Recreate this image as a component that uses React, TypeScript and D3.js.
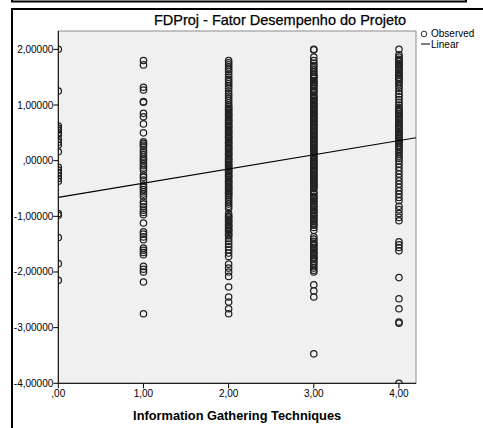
import * as d3 from "d3";

// categories on the x axis (Information Gathering Techniques)
const categories = [0, 1, 2, 3, 4];

// FDProj values observed at each category
const col0 = [2.0, 1.25, 0.62, 0.58, 0.55, 0.5, 0.46, 0.38, 0.33, 0.28, 0.16, -0.12, -0.17, -0.22, -0.27, -0.32, -0.37, -0.95, -0.98, -1.38, -1.85, -2.15];
const col1 = [1.8, 1.72, 1.32, 1.27, 1.06, 1.05, 0.85, 0.79, 0.66, 0.5, 0.34, 0.31, 0.28, 0.25, 0.19, 0.15, 0.11, 0.07, 0.03, 0.0, -0.05, -0.09, -0.13, -0.17, -0.26, -0.3, -0.35, -0.44, -0.48, -0.52, -0.56, -0.6, -0.65, -0.74, -0.78, -0.83, -0.89, -0.93, -0.97, -1.12, -1.28, -1.32, -1.37, -1.42, -1.57, -1.61, -1.65, -1.69, -1.9, -1.95, -2.0, -2.18, -2.75];
const col2 = [1.8, 1.76, 1.72, 1.68, 1.64, 1.6, 1.55, 1.5, 1.46, 1.42, 1.38, 1.34, 1.3, 1.25, 1.2, 1.16, 1.12, 1.08, 1.04, 1.0, 0.97, 0.94, 0.9, 0.87, 0.84, 0.8, 0.77, 0.74, 0.7, 0.67, 0.64, 0.6, 0.57, 0.54, 0.5, 0.47, 0.44, 0.4, 0.37, 0.34, 0.3, 0.27, 0.24, 0.2, 0.17, 0.14, 0.1, 0.07, 0.04, 0.0, -0.03, -0.06, -0.1, -0.13, -0.16, -0.2, -0.23, -0.26, -0.3, -0.33, -0.36, -0.4, -0.43, -0.46, -0.5, -0.53, -0.56, -0.6, -0.63, -0.66, -0.7, -0.74, -0.78, -0.82, -0.86, -0.95, -0.99, -1.03, -1.07, -1.11, -1.15, -1.19, -1.23, -1.27, -1.31, -1.35, -1.4, -1.45, -1.5, -1.55, -1.6, -1.66, -1.72, -1.86, -1.93, -2.0, -2.08, -2.27, -2.45, -2.54, -2.66, -2.75,
  0.92, 0.82, 0.72, 0.62, 0.52, 0.42, 0.32, 0.22, 0.12, 0.02, -0.08, -0.18, -0.28, -0.38, -0.48, -0.58, -1.01, -1.09, -1.17, -1.25, -1.33];
const col3 = [2.0, 1.99, 1.86, 1.8, 1.75, 1.71, 1.67, 1.63, 1.59, 1.55, 1.52, 1.48, 1.44, 1.4, 1.37, 1.33, 1.29, 1.26, 1.22, 1.18, 1.15, 1.11, 1.08, 1.04, 1.01, 0.97, 0.94, 0.9, 0.87, 0.83, 0.8, 0.76, 0.73, 0.69, 0.66, 0.62, 0.59, 0.55, 0.52, 0.48, 0.45, 0.41, 0.38, 0.34, 0.31, 0.27, 0.24, 0.2, 0.17, 0.13, 0.1, 0.06, 0.03, -0.01, -0.04, -0.08, -0.11, -0.15, -0.18, -0.22, -0.25, -0.29, -0.32, -0.36, -0.39, -0.43, -0.46, -0.5, -0.55, -0.6, -0.64, -0.68, -0.72, -0.76, -0.8, -0.84, -0.88, -0.92, -0.96, -1.0, -1.04, -1.08, -1.12, -1.16, -1.2, -1.25, -1.37, -1.41, -1.45, -1.49, -1.53, -1.57, -1.61, -1.65, -1.69, -1.73, -1.77, -1.81, -1.85, -1.89, -1.93, -1.97, -2.0, -2.23, -2.34, -2.45, -3.47,
  1.5, 1.42, 1.35, 1.24, 1.13, 1.06, 0.99, 0.92, 0.85, 0.78, 0.71, 0.64, 0.57, 0.5, 0.43, 0.36, 0.29, 0.22, 0.15, 0.08, 0.01, -0.06, -0.13, -0.2, -0.27, -0.34, -0.41, -0.48, -0.58, -0.66, -0.74, -0.82, -0.9, -0.98, -1.06, -1.14, -1.51, -1.59, -1.67, -1.75];
const col4 = [2.0, 1.9, 1.86, 1.82, 1.78, 1.74, 1.7, 1.66, 1.62, 1.58, 1.54, 1.5, 1.46, 1.42, 1.38, 1.34, 1.3, 1.25, 1.2, 1.15, 1.1, 1.05, 1.0, 0.96, 0.92, 0.88, 0.84, 0.8, 0.76, 0.72, 0.68, 0.64, 0.6, 0.56, 0.52, 0.48, 0.44, 0.4, 0.36, 0.32, 0.28, 0.24, 0.2, 0.16, 0.12, 0.08, 0.04, 0.0, -0.06, -0.12, -0.18, -0.24, -0.3, -0.36, -0.42, -0.48, -0.54, -0.6, -0.66, -0.72, -0.82, -0.88, -0.95, -1.02, -1.08, -1.46, -1.51, -1.56, -1.62, -2.1, -2.48, -2.66, -2.9, -2.92, -4.0,
  1.8, 1.72, 1.64, 1.56, 1.48, 0.9, 0.82, 0.74, 0.66, 0.58, 0.5, 0.42, 0.34, 0.26];
const columns = [col0, col1, col2, col3, col4];

// linear fit
const fitIntercept = -0.66;
const fitSlope = 0.255;

// axis ticks and labels
const xTicks = [0, 1, 2, 3, 4];
const xTickLabels = [",00", "1,00", "2,00", "3,00", "4,00"];
const yTicks = [2, 1, 0, -1, -2, -3, -4];
const yTickLabels = ["2,00000", "1,00000", ",00000", "-1,00000", "-2,00000", "-3,00000", "-4,00000"];

const title = "FDProj - Fator Desempenho do Projeto";
const xTitle = "Information Gathering Techniques";
const legendLabels = ["Observed", "Linear"];

export default function App() {
  const W = 483;
  const H = 428;
  const left = 58.3;
  const right = 416;
  const top = 31;
  const bottom = 383.3;
  const font = "'Liberation Sans', Arial, sans-serif";

  const x = d3.scaleLinear().domain([0, 4.2]).range([left, right]);
  const y = d3.scaleLinear().domain([-4, 2.33]).range([bottom, top]);

  const points = categories.flatMap((c, i) => columns[i].map((v) => ({ c, v })));
  const fitLine = d3
    .line<number>()
    .x((d) => x(d))
    .y((d) => y(fitIntercept + fitSlope * d));

  return (
    <svg
      width={W}
      height={H}
      style={{ position: "absolute", left: 0, top: 0, background: "#fff" }}
    >
      {/* frames */}
      <path d="M12,0 V1.5 H466 V0" fill="none" stroke="#000" strokeWidth={2} />
      <path d={`M12,${H} V9 H${W + 2}`} fill="none" stroke="#000" strokeWidth={2} />

      <text x={280} y={25} textAnchor="middle" fontFamily={font} fontSize={14.5} fill="#000" stroke="#000" strokeWidth={0.25}>
        {title}
      </text>

      <defs>
        <clipPath id="plotClip">
          <rect x={left} y={top} width={right - left} height={bottom - top} />
        </clipPath>
      </defs>
      <rect x={left} y={top} width={right - left} height={bottom - top} fill="#f0f0f0" stroke="#8c8c8c" strokeWidth={1} />

      <g clipPath="url(#plotClip)">
        {points.map((p, i) => (
          <circle key={i} cx={x(p.c)} cy={y(p.v)} r={3.2} fill="none" stroke="#222" strokeWidth={1.25} />
        ))}
        <path d={fitLine([0, 4.2]) || ""} fill="none" stroke="#000" strokeWidth={1.1} />
      </g>

      {/* axes */}
      <line x1={left} x2={left} y1={top} y2={bottom} stroke="#000" strokeWidth={1} />
      <line x1={left} x2={right} y1={bottom} y2={bottom} stroke="#000" strokeWidth={1} />
      {yTicks.map((t, i) => (
        <g key={t}>
          <line x1={left - 5} x2={left} y1={y(t)} y2={y(t)} stroke="#000" />
          <text x={left - 5} y={y(t) + 3.5} textAnchor="end" fontFamily={font} fontSize={10} fill="#000">
            {yTickLabels[i]}
          </text>
        </g>
      ))}
      {xTicks.map((t, i) => (
        <g key={t}>
          <line x1={x(t)} x2={x(t)} y1={bottom} y2={bottom + 5} stroke="#000" />
          <text x={x(t)} y={bottom + 14} textAnchor="middle" fontFamily={font} fontSize={10} fill="#000">
            {xTickLabels[i]}
          </text>
        </g>
      ))}
      <text x={(left + right) / 2} y={420} textAnchor="middle" fontFamily={font} fontSize={12.8} fontWeight="bold" fill="#000">
        {xTitle}
      </text>

      {/* legend */}
      <circle cx={424} cy={34} r={2.8} fill="none" stroke="#333" />
      <text x={431} y={37} fontFamily={font} fontSize={10} fill="#000">
        {legendLabels[0]}
      </text>
      <line x1={421} x2={430} y1={44} y2={44} stroke="#000" />
      <text x={431} y={47.5} fontFamily={font} fontSize={10} fill="#000">
        {legendLabels[1]}
      </text>
    </svg>
  );
}
